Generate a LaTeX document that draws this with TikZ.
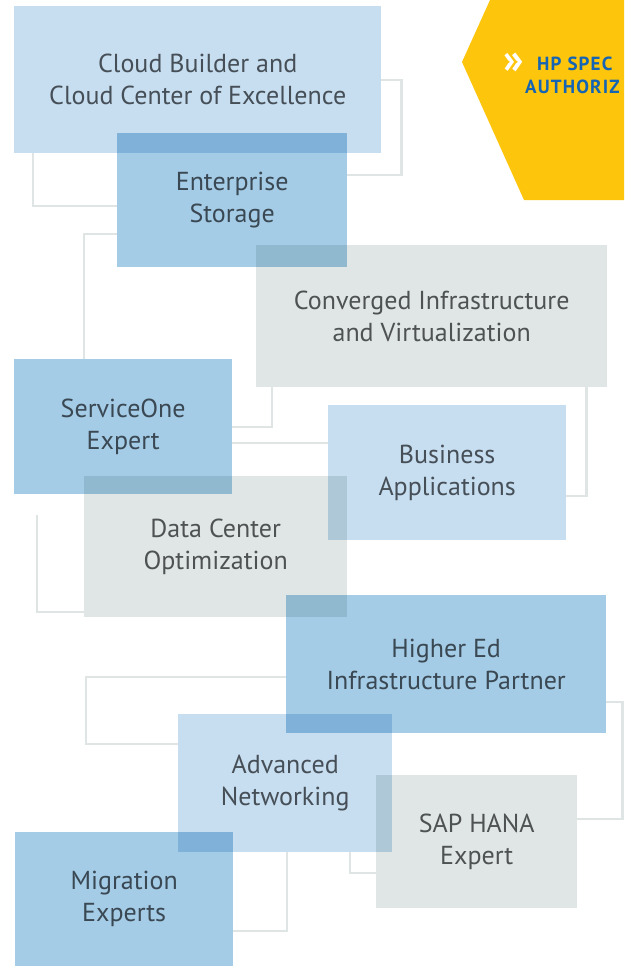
\documentclass[tikz,border=0pt]{standalone}
\usepackage{fontspec}
\setmainfont{PT Sans}
\newfontfamily\bannerfont[LetterSpace=6]{PT Sans}
\usetikzlibrary{backgrounds}

\definecolor{lightblue}{HTML}{C7DEF0}
\definecolor{midblue}{HTML}{A5CCE6}
\definecolor{palegray}{HTML}{E0E6E6}
\definecolor{linegray}{HTML}{DFE5E5}
\definecolor{textgray}{HTML}{5A5B5D}
\definecolor{hpyellow}{HTML}{FDC50C}
\definecolor{hpblue}{HTML}{1565B4}

\begin{document}
\begin{tikzpicture}[
    x=1pt, y=-1pt,
    every node/.style={inner sep=0pt},
    box/.style={anchor=north west, align=center, text=textgray, font=\fontsize{26}{32}\selectfont},
    link/.style={draw=linegray, line width=2.2pt},
    banner/.style={anchor=west, text=hpblue, font=\bannerfont\bfseries\fontsize{19}{23}\selectfont}
]
    \useasboundingbox (0,0) rectangle (624,966);

    % yellow tag, top right
    \fill[hpyellow] (490,0) -- (462,62) -- (524,200) -- (624,200) -- (624,0) -- cycle;
    \node[banner, text=white, font=\bannerfont\bfseries\fontsize{42}{42}\selectfont] (chevron) at (503,63) {»};
    \node[banner] (hpspec) at (537,64) {HP SPEC};
    \node[banner] (authoriz) at (525,87) {AUTHORIZ};

    % program boxes
    \begin{scope}[blend mode=multiply]
    \node[box, fill=lightblue, minimum width=367pt, minimum height=147pt] (cloud) at (14,6) {Cloud Builder and\\Cloud Center of Excellence};
    \node[box, fill=midblue, minimum width=230pt, minimum height=134pt] (storage) at (117,133) {Enterprise\\Storage};
    \node[box, fill=palegray, minimum width=351pt, minimum height=142pt] (converged) at (256,245) {Converged Infrastructure\\and Virtualization};
    \node[box, fill=midblue, minimum width=218pt, minimum height=135pt] (serviceone) at (14,359) {ServiceOne\\Expert};
    \node[box, fill=lightblue, minimum width=238pt, minimum height=135pt] (business) at (328,405) {Business\\Applications};
    \node[box, fill=palegray, minimum width=263pt, minimum height=141pt] (datacenter) at (84,476) {Data Center\\Optimization};
    \node[box, fill=midblue, minimum width=320pt, minimum height=138pt] (highered) at (286,595) {Higher Ed\\Infrastructure Partner};
    \node[box, fill=lightblue, minimum width=214pt, minimum height=138pt] (networking) at (178,714) {Advanced\\Networking};
    \node[box, fill=palegray, minimum width=201pt, minimum height=133pt] (saphana) at (376,775) {SAP HANA\\Expert};
    \node[box, fill=midblue, minimum width=218pt, minimum height=134pt] (migration) at (15,832) {Migration\\Experts};
    \end{scope}

    % connectors behind the boxes
    \begin{scope}[on background layer]
    \coordinate (dcfree) at ([xshift=23pt,yshift=-21pt]serviceone.south west);
    \draw[link] (cloud.east) -- ++(20,0) |- ([yshift=-42pt]storage.north east);
    \draw[link] ([xshift=19pt]cloud.south west) |- ([yshift=-73pt]storage.north west);
    \draw[link] ([yshift=-101pt]storage.north west) -| ([xshift=70pt]serviceone.north west);
    \draw[link] ([xshift=16pt]converged.south west) |- ([yshift=-68pt]serviceone.north east);
    \draw[link] ([yshift=-84pt]serviceone.north east) -- ([yshift=-38pt]business.north west);
    \draw[link] ([xshift=-21pt]converged.south east) |- ([yshift=-91pt]business.north east);
    \draw[link] (dcfree) |- ([yshift=-136pt]datacenter.north west);
    \draw[link] ([yshift=-82pt]highered.north west) -- ++(-200,0) |- ([yshift=-30pt]networking.north west);
    \draw[link] ([yshift=-107pt]highered.north east) -- ++(16,0) |- ([yshift=-44pt]saphana.north east);
    \draw[link] ([xshift=172pt]networking.south west) |- ([yshift=-98pt]saphana.north west);
    \draw[link] ([xshift=109pt]networking.south west) |- ([yshift=-99pt]migration.north east);
    \end{scope}
\end{tikzpicture}
\end{document}
